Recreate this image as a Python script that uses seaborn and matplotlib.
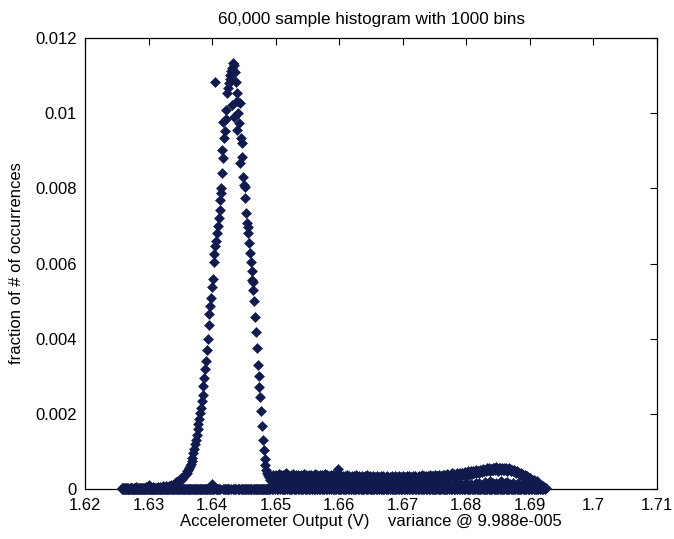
import numpy as np
import pandas as pd
import matplotlib
matplotlib.use("Agg")
import matplotlib.pyplot as plt
import seaborn as sns

# ---------------- data ----------------
title = "60,000 sample histogram with 1000 bins"
x_label = "Accelerometer Output (V)    variance @ 9.988e-005"
y_label = "fraction of # of occurrences"
n_samples = 60000
bin_lo, bin_hi = 1.6258, 1.6925          # histogram range (V)

# counts per bin (1000 bins)
counts = [
    1,0,2,0,1,0,0,0,2,0,1,0,1,0,2,0,0,0,1,0,
    2,0,1,0,1,0,0,0,2,0,1,0,3,0,1,0,0,0,2,0,
    1,0,2,0,1,0,2,0,0,0,1,0,2,0,1,0,3,0,1,0,
    2,0,1,0,6,0,2,0,1,0,2,0,0,0,3,0,1,0,2,0,
    2,0,1,0,3,0,2,0,1,0,3,0,2,0,1,0,4,0,2,0,
    3,0,2,0,4,0,3,0,2,0,4,0,5,0,3,0,6,0,4,0,
    7,0,6,0,9,0,8,0,11,0,10,0,13,0,12,0,15,0,14,0,
    17,0,16,0,19,0,20,0,22,0,24,0,25,0,28,0,30,0,33,0,
    36,0,40,0,45,0,50,0,58,0,64,0,72,0,78,0,86,0,95,0,
    104,0,112,0,122,0,130,0,141,0,150,0,165,0,178,0,192,0,205,0,
    222,0,240,0,262,0,280,0,292,0,305,0,322,8,335,0,362,0,375,650,
    388,0,396,0,408,0,420,0,432,0,445,0,461,472,480,541,505,0,528,586,
    560,0,572,0,590,0,605,0,632,0,640,0,648,0,655,661,660,0,668,613,
    672,0,680,594,677,0,665,0,650,0,632,573,620,0,600,0,585,0,616,520,
    560,0,552,0,530,0,498,0,485,0,465,482,440,0,425,0,419,0,408,0,
    392,0,376,0,362,0,348,333,330,0,318,0,300,0,275,0,250,0,225,0,
    198,0,180,0,163,0,147,0,125,0,100,0,78,0,62,0,48,0,38,0,
    30,0,26,0,22,0,19,0,17,0,15,6,21,0,18,4,22,0,19,8,
    20,0,23,5,18,0,21,9,19,0,24,3,17,0,22,7,20,0,18,0,
    22,6,19,0,21,0,25,8,18,0,20,4,23,0,19,0,17,10,22,0,
    21,0,18,7,24,0,20,0,19,5,22,0,18,9,21,0,23,0,20,3,
    19,0,22,8,17,0,21,0,24,6,18,0,20,0,22,9,19,0,21,4,
    23,0,18,0,20,7,22,0,19,0,21,10,17,0,24,0,20,5,18,0,
    22,0,19,8,21,0,23,0,18,4,20,0,22,9,17,0,21,0,24,6,
    19,0,20,0,22,7,18,0,21,0,19,5,23,0,20,8,18,0,22,0,
    20,6,17,0,21,0,19,9,22,0,32,0,18,4,20,0,21,0,17,7,
    19,0,21,0,16,8,20,0,18,0,22,5,17,0,19,0,20,9,16,0,
    18,0,21,6,17,0,19,0,20,0,16,8,22,0,18,4,19,0,17,0,
    20,7,16,0,18,0,21,5,17,0,19,0,15,9,20,0,18,0,22,3,
    17,0,19,8,16,0,20,0,18,0,15,6,21,0,17,0,19,9,16,0,
    18,0,20,4,15,0,19,0,17,7,21,0,16,0,18,0,20,8,15,0,
    17,5,19,0,16,0,20,0,18,9,15,0,19,0,17,6,21,0,16,0,
    18,0,15,8,20,0,17,0,19,4,16,0,18,0,21,7,15,0,19,0,
    17,0,20,6,16,0,18,0,19,9,15,0,21,0,17,5,18,0,20,0,
    16,8,19,0,17,0,21,0,18,6,16,0,20,0,18,9,17,0,19,0,
    21,0,17,5,19,0,18,0,22,8,16,0,20,0,19,7,18,0,21,0,
    17,6,20,0,19,0,22,0,18,9,21,0,17,0,20,5,19,0,23,0,
    18,0,21,8,20,0,17,0,22,6,19,0,21,0,18,9,23,0,20,0,
    22,0,19,7,21,0,24,0,20,5,22,0,19,8,23,0,21,0,25,0,
    22,6,20,0,24,0,23,9,21,0,26,0,22,7,24,0,21,0,25,8,
    23,0,26,0,22,5,25,0,27,0,23,9,26,0,24,0,28,6,22,0,
    27,0,25,8,28,0,24,0,29,7,26,0,28,0,25,10,30,0,27,0,
    29,0,26,9,31,0,28,0,30,6,27,0,32,0,29,11,31,0,28,0,
    33,0,30,8,31,0,34,0,29,12,32,0,30,0,34,9,31,0,33,0,
    30,0,35,10,32,0,29,0,33,8,31,0,34,0,30,12,33,0,31,0,
    34,0,30,9,32,0,33,0,29,11,31,0,34,0,30,8,32,0,29,0,
    31,0,28,10,30,0,27,0,29,7,26,0,28,0,25,9,26,0,24,0,
    25,0,23,8,24,0,22,0,21,6,22,0,20,0,19,7,20,0,18,0,
    17,0,18,5,16,0,15,0,14,6,13,0,14,0,12,4,11,0,12,0,
    10,0,9,3,8,0,7,0,6,2,5,0,4,0,3,2,2,0,1,1,
]

x_tick_labels = ["1.62", "1.63", "1.64", "1.65", "1.66", "1.67", "1.68", "1.69", "1.7", "1.71"]
y_tick_labels = ["0", "0.002", "0.004", "0.006", "0.008", "0.01", "0.012"]

# ---------------- build table ----------------
edges = np.linspace(bin_lo, bin_hi, len(counts) + 1)
centers = 0.5 * (edges[:-1] + edges[1:])
df = pd.DataFrame({"volts": centers,
                   "fraction": np.asarray(counts, dtype=float) / n_samples})

# ---------------- style ----------------
sns.set_theme(style="white")
plt.rcParams["font.family"] = ["Liberation Sans", "DejaVu Sans"]

fig = plt.figure(figsize=(6.74, 5.39), dpi=100)
ax = fig.add_axes([85 / 674, 50 / 539, 572 / 674, 451 / 539])

marker_color = "#111a4c"
sns.scatterplot(data=df, x="volts", y="fraction", marker="D", s=26,
                color=marker_color, edgecolor=marker_color, linewidth=0.4,
                legend=False, ax=ax, clip_on=False, zorder=3)

x_ticks = [float(t) for t in x_tick_labels]
y_ticks = [float(t) for t in y_tick_labels]
ax.set_xlim(x_ticks[0], x_ticks[-1])
ax.set_ylim(y_ticks[0], y_ticks[-1])
ax.set_xticks(x_ticks)
ax.set_xticklabels(x_tick_labels)
ax.set_yticks(y_ticks)
ax.set_yticklabels(y_tick_labels)

ax.tick_params(direction="in", top=True, right=True, length=5, width=0.8,
               labelsize=12, colors="black")
ax.tick_params(axis="x", pad=6.5)
ax.tick_params(axis="y", pad=6)
for sp in ax.spines.values():
    sp.set_visible(True)
    sp.set_color("black")
    sp.set_linewidth(0.9)

ax.set_xlabel(x_label, fontsize=12, labelpad=1, color="black")
ax.set_ylabel(y_label, fontsize=12, labelpad=8, color="black")
ax.set_title(title, fontsize=12.3, pad=10, color="black")
ax.grid(False)

fig.savefig("out.png", dpi=100, facecolor="white")
